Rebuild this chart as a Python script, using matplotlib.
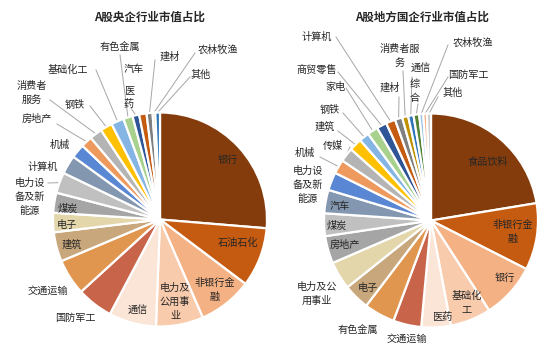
import matplotlib
matplotlib.use("Agg")
import matplotlib.pyplot as plt
import numpy as np

plt.rcParams['font.family'] = ['Noto Sans CJK SC', 'DejaVu Sans']

# ---------------- data ----------------
left_title = 'A股央企行业市值占比'
left_cats = ['银行', '石油石化', '非银行金融', '电力及公用事业', '通信', '国防军工', '交通运输',
             '建筑', '电子', '煤炭', '电力设备及新能源', '计算机', '机械', '房地产', '消费者服务',
             '钢铁', '基础化工', '有色金属', '医药', '汽车', '建材', '农林牧渔', '其他']
left_vals = [26.1, 8.9, 8.1, 7.1, 7.1, 5.4, 5.4, 4.4, 2.9, 3.0, 3.1, 2.8, 2.1, 1.7, 1.9,
             1.8, 1.9, 1.4, 1.0, 1.1, 0.9, 0.4, 0.7]

right_title = 'A股地方国企行业市值占比'
right_cats = ['食品饮料', '非银行金融', '银行', '基础化工', '医药', '交通运输', '有色金属', '电子',
              '电力及公用事业', '房地产', '煤炭', '汽车', '电力设备及新能源', '机械', '传媒', '建筑',
              '钢铁', '家电', '商贸零售', '计算机', '建材', '消费者服务', '通信', '综合', '农林牧渔',
              '国防军工', '其他']
right_vals = [22.2, 10.0, 8.3, 6.1, 4.4, 4.2, 4.6, 3.9, 4.2, 4.1, 3.4, 3.5, 2.7, 2.1, 2.1,
              1.9, 1.5, 1.6, 1.5, 1.4, 1.1, 0.9, 0.8, 0.85, 0.6, 0.55, 0.6]

# ---------------- styles / layout ----------------
palette = ['#843C0C', '#C55A11', '#F4B183', '#F8CBAD', '#FBE5D6', '#C8644A', '#E0964F',
           '#C9A77C', '#E3D6AB', '#A5A5A5', '#C0C0C0', '#8497B0', '#5A87D4', '#EE9A5E',
           '#B4B4B4', '#FFC000', '#84B5E4', '#A9D18E', '#2F5597', '#C55A11', '#7F7F7F',
           '#BF9000', '#2E75B6', '#548235', '#9DC3E6', '#F4B183', '#C9C9C9']

W, H = 550, 352
TXT = '#262626'
LEAD = '#A6A6A6'
LINE_PX = 14

left_wrap = {'非银行金融': '非银行金\n融', '电力及公用事业': '电力及\n公用事\n业',
             '电力设备及新能源': '电力设\n备及新\n能源', '消费者服务': '消费者\n服务', '医药': '医\n药'}
right_wrap = {'非银行金融': '非银行金\n融', '基础化工': '基础化\n工', '电力及公用事业': '电力及公\n用事业',
              '电力设备及新能源': '电力设\n备及新\n能源', '消费者服务': '消费者服\n务', '综合': '综\n合'}

# label centres (pixels, from top-left)
left_pos = {'银行': (228, 160), '石油石化': (238, 243), '非银行金融': (215, 290),
            '电力及公用事业': (175, 302), '通信': (138, 311), '国防军工': (75, 318),
            '交通运输': (48, 291), '建筑': (72, 245), '电子': (67, 225), '煤炭': (68, 209),
            '电力设备及新能源': (30, 197), '计算机': (43, 167), '机械': (60, 145),
            '房地产': (37, 119), '消费者服务': (32, 93), '钢铁': (75, 105), '基础化工': (68, 70),
            '有色金属': (120, 47), '汽车': (134, 69), '医药': (129, 97), '建材': (170, 57),
            '农林牧渔': (218, 50), '其他': (201, 75)}
left_lead = {'电力设备及新能源': (48, 183), '房地产': (57, 124), '消费者服务': (50, 100),
             '钢铁': (90, 106), '基础化工': (96, 70), '有色金属': (120, 55), '医药': (131, 108),
             '建材': (155, 60), '农林牧渔': (195, 53), '其他': (190, 77)}

right_pos = {'食品饮料': (488, 162), '非银行金融': (513, 232), '银行': (505, 278),
             '基础化工': (467, 303), '医药': (442, 317), '交通运输': (407, 339),
             '有色金属': (358, 330), '电子': (368, 288), '电力及公用事业': (317, 294),
             '房地产': (345, 245), '煤炭': (337, 226), '汽车': (340, 206),
             '电力设备及新能源': (308, 185), '机械': (305, 153), '传媒': (333, 146),
             '建筑': (325, 127), '钢铁': (330, 110), '家电': (335, 87), '商贸零售': (317, 71),
             '计算机': (317, 37), '建材': (390, 88), '消费者服务': (400, 56), '通信': (421, 69),
             '综合': (415, 91), '农林牧渔': (473, 43), '国防军工': (468, 75), '其他': (453, 93)}
right_lead = {'机械': (320, 157), '传媒': (350, 147), '建筑': (338, 131), '钢铁': (343, 113),
              '家电': (346, 88), '商贸零售': (338, 72), '计算机': (336, 37), '建材': (399, 97),
              '消费者服务': (403, 71), '通信': (412, 77), '综合': (418, 104),
              '农林牧渔': (448, 45), '国防军工': (448, 77), '其他': (438, 97)}

charts = [
    dict(title=left_title, cats=left_cats, vals=left_vals, center=(160, 219.5), r=107,
         title_xy=(149, 17), wrap=left_wrap, pos=left_pos, lead=left_lead),
    dict(title=right_title, cats=right_cats, vals=right_vals, center=(431, 220.5), r=107,
         title_xy=(422, 17), wrap=right_wrap, pos=right_pos, lead=right_lead),
]

fig = plt.figure(figsize=(W / 100, H / 100), dpi=100)
ax = fig.add_axes([0, 0, 1, 1])


def P(x, y):
    return (x, H - y)


for c in charts:
    cx, cy = P(*c['center'])
    wedges, _ = ax.pie(c['vals'], colors=palette[:len(c['vals'])], startangle=90,
                       counterclock=False, center=(cx, cy), radius=c['r'],
                       wedgeprops=dict(edgecolor='white', linewidth=1.6))
    tx, ty = P(*c['title_xy'])
    ax.text(tx, ty, c['title'], ha='center', va='center', fontsize=8.3,
            fontweight='bold', color=TXT)
    for w, name in zip(wedges, c['cats']):
        lx, ly = P(*c['pos'][name])
        lines = c['wrap'].get(name, name).split('\n')
        n = len(lines)
        for i, line in enumerate(lines):
            ax.text(lx, ly - (i - (n - 1) / 2) * LINE_PX, line, ha='center', va='center',
                    fontsize=7.3, color=TXT)
        if name in c['lead']:
            th = np.deg2rad((w.theta1 + w.theta2) / 2)
            ex = cx + c['r'] * np.cos(th)
            ey = cy + c['r'] * np.sin(th)
            sx, sy = P(*c['lead'][name])
            ax.plot([sx, ex], [sy, ey], color=LEAD, lw=0.7, zorder=0.5)

ax.set_xlim(0, W)
ax.set_ylim(0, H)
ax.set_aspect('auto')
ax.axis('off')
fig.savefig('out.png', dpi=100, facecolor='white')
